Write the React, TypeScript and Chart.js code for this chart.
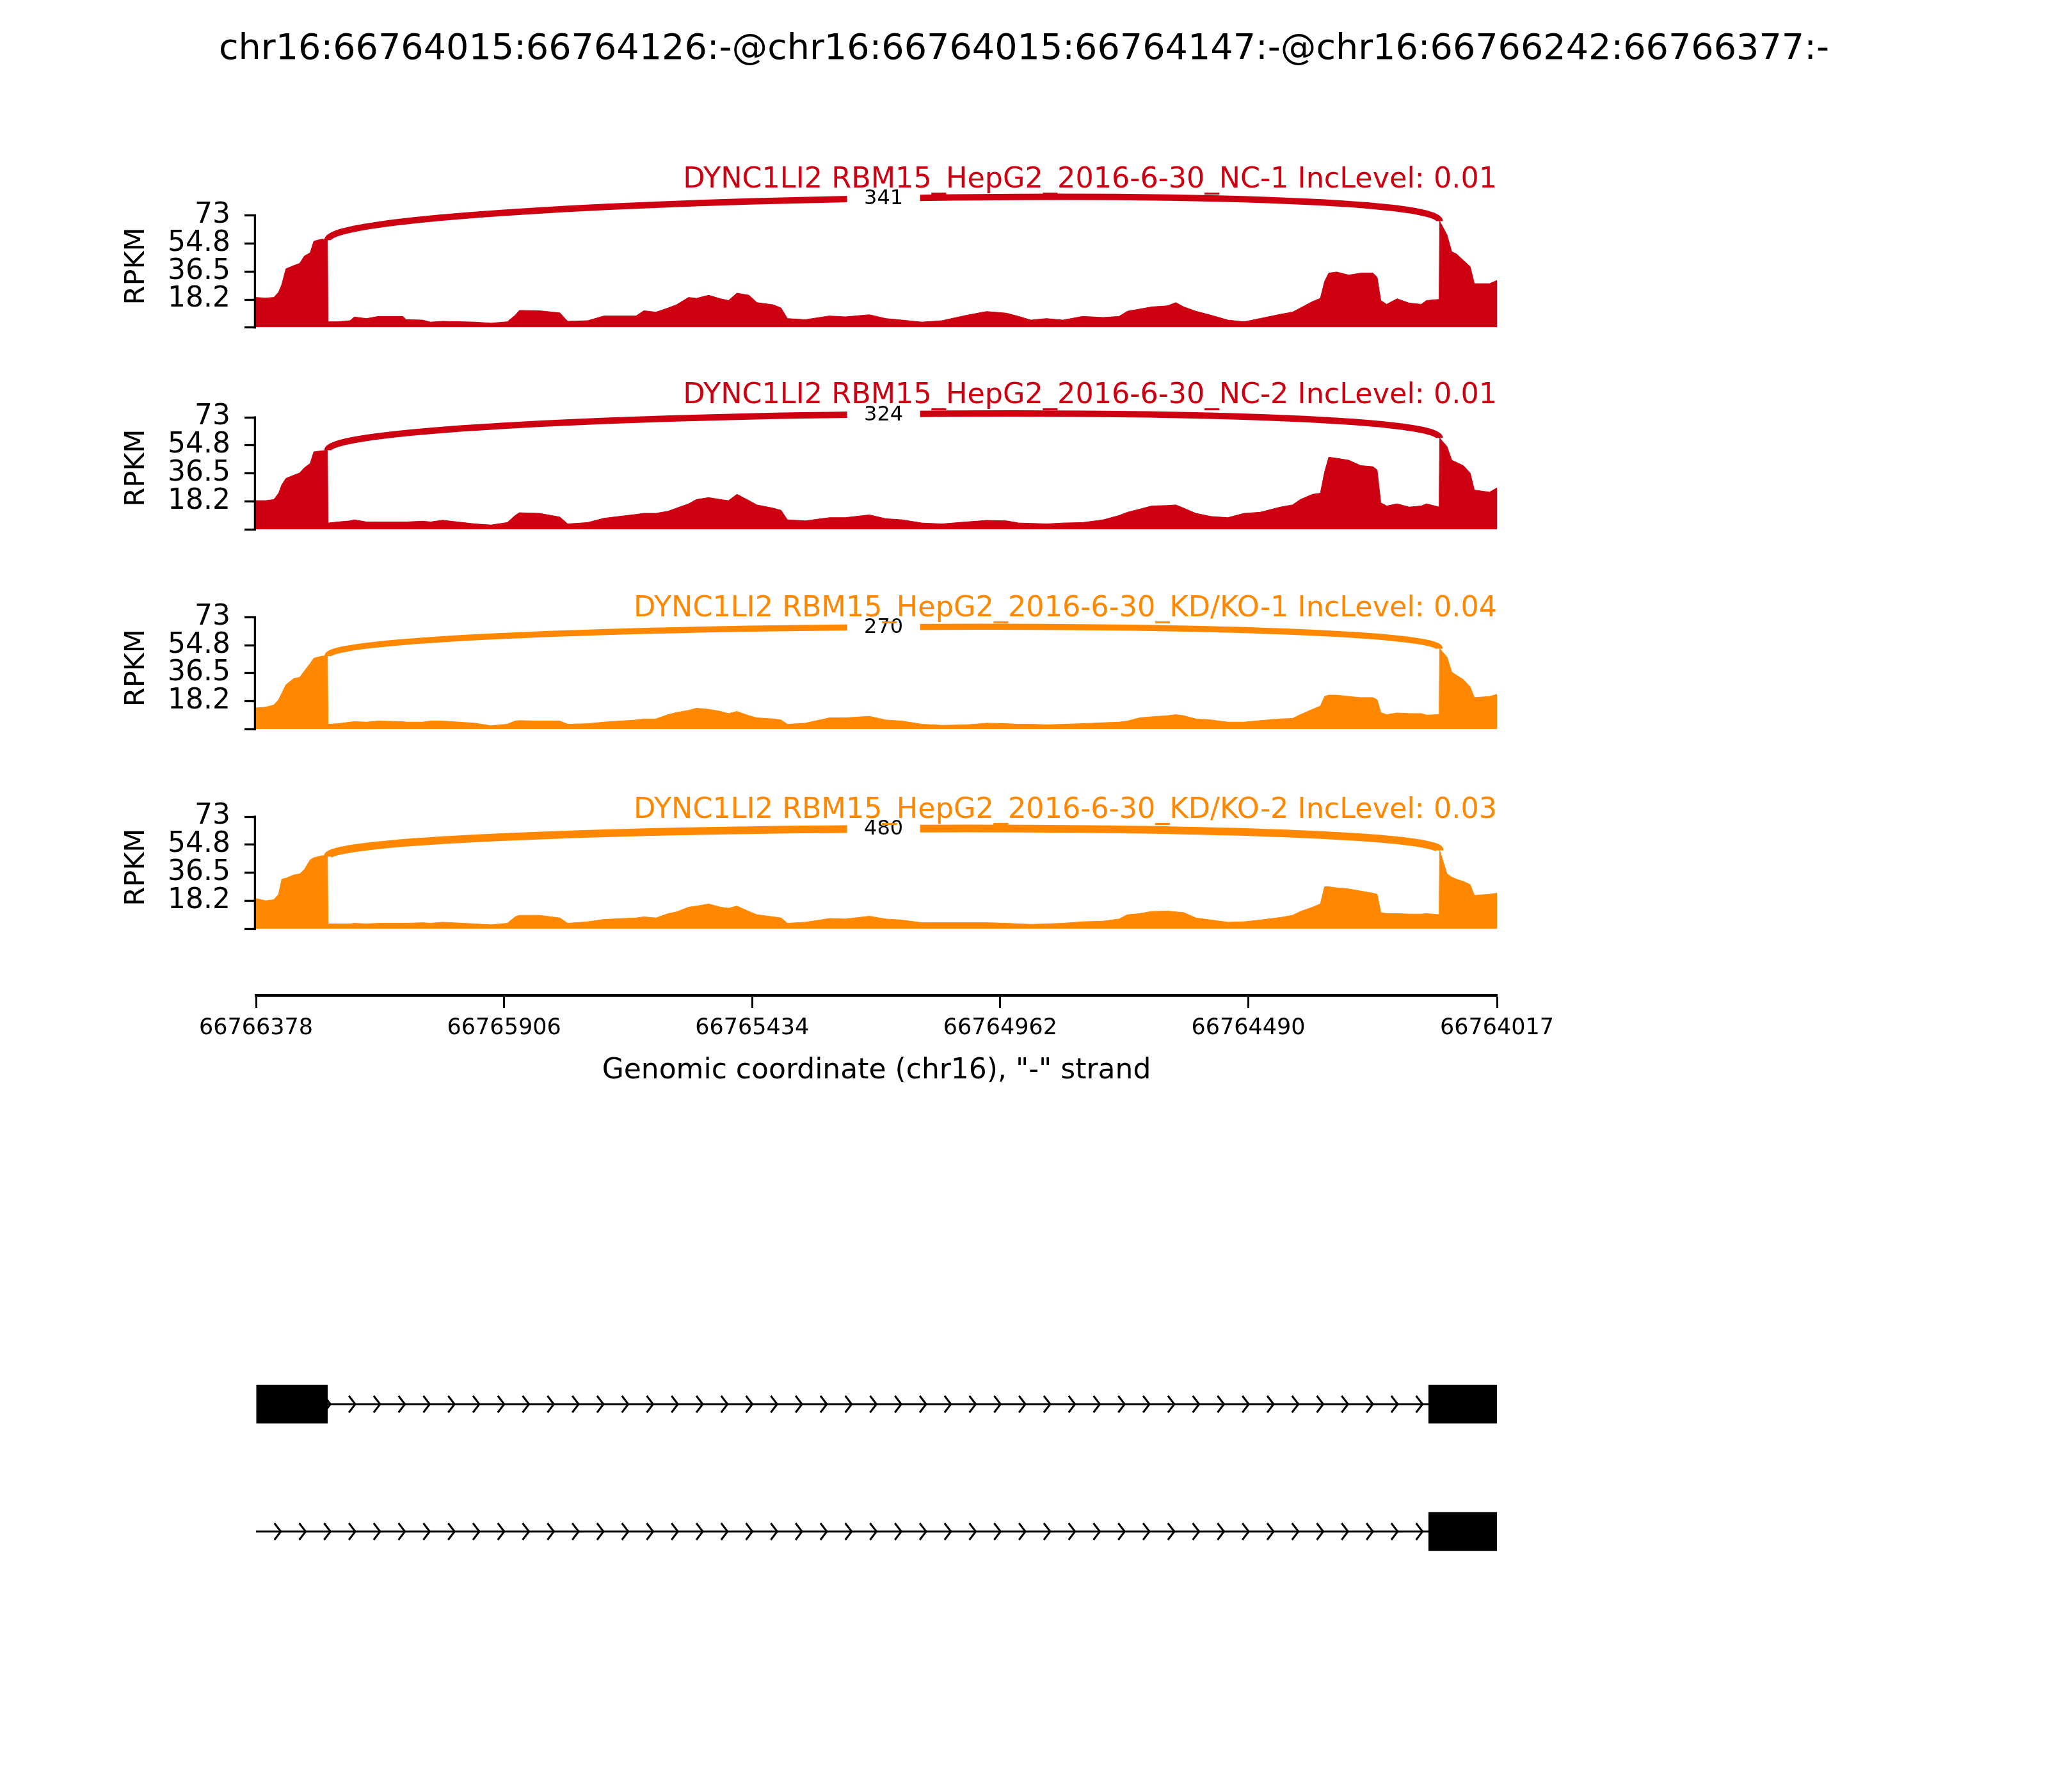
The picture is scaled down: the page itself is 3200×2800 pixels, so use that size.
import React, { useEffect, useRef } from 'react';
import { Chart, registerables } from 'chart.js';

Chart.register(...registerables);
Chart.defaults.font.family = '"DejaVu Sans", sans-serif';
Chart.defaults.color = '#000';

// ---------------- data ----------------
const figureTitle = 'chr16:66764015:66764126:-@chr16:66764015:66764147:-@chr16:66766242:66766377:-';
const regionLeft = 66766378;
const regionRight = 66764017;
const xTickValues = [66766378, 66765906, 66765434, 66764962, 66764490, 66764017];
const xAxisLabel = 'Genomic coordinate (chr16), "-" strand';
const yTickValues = [0, 18.2, 36.5, 54.8, 73];
const yAxisLabel = 'RPKM';

const sampleLabels = [
  'DYNC1LI2 RBM15_HepG2_2016-6-30_NC-1 IncLevel: 0.01',
  'DYNC1LI2 RBM15_HepG2_2016-6-30_NC-2 IncLevel: 0.01',
  'DYNC1LI2 RBM15_HepG2_2016-6-30_KD/KO-1 IncLevel: 0.04',
  'DYNC1LI2 RBM15_HepG2_2016-6-30_KD/KO-2 IncLevel: 0.03',
];
const junctionCounts = [341, 324, 270, 480];
const junctionStart = 66766242;
const junctionEnd = 66764126;

// positions as bp offsets from the left edge (66766378)
const coverageOffsets = [
  0, 18, 34, 43, 49, 57, 72, 83, 92, 103,
  110, 126, 136, 137, 156, 179, 187, 210, 233, 279,
  286, 317, 332, 355, 417, 447, 478, 493, 501, 539,
  578, 593, 631, 662, 723, 738, 761, 784, 800, 823,
  838, 861, 884, 899, 915, 938, 953, 984, 999, 1011,
  1045, 1091, 1121, 1167, 1198, 1229, 1267, 1305, 1351, 1390,
  1428, 1451, 1474, 1504, 1535, 1573, 1612, 1642, 1658, 1681,
  1704, 1734, 1750, 1765, 1788, 1818, 1849, 1880, 1910, 1949,
  1972, 1987, 2010, 2025, 2033, 2041, 2056, 2079, 2102, 2125,
  2133, 2140, 2151, 2171, 2194, 2217, 2227, 2251, 2252, 2266,
  2275, 2284, 2297, 2310, 2318, 2347, 2361,
];

const coverageNC1 = [
  19.6, 19.2, 19.6, 23, 28, 38.3, 40.4, 41.8, 46.6, 48.7,
  56.3, 57.7, 57, 3.7, 3.7, 4.4, 6.8, 5.8, 7.2, 7.2,
  5.1, 4.8, 3.5, 4, 3.5, 2.8, 3.7, 7.9, 11.1, 10.9,
  9.5, 4, 4.4, 7.5, 7.5, 10.9, 10, 12.7, 14.8, 19.6,
  19, 21, 18.7, 17.6, 22.4, 21, 16.2, 14.8, 12.7, 5.8,
  5.1, 7.5, 6.9, 8.3, 5.8, 4.8, 3.5, 4.4, 7.9, 10.4,
  9.3, 7.2, 4.8, 5.8, 4.8, 7.2, 6.5, 7.2, 10.6, 12,
  13.4, 14.1, 16.2, 13.4, 10.6, 7.9, 4.8, 3.7, 5.8, 8.6,
  10, 12.7, 16.9, 19, 30, 35.5, 36.2, 34.2, 35.5, 35.5,
  32.8, 17.6, 15.1, 18.7, 15.9, 15.1, 17.6, 18.3, 69.4, 60.4,
  49.4, 48, 43.8, 39.7, 28.6, 28.6, 30.7,
];

const coverageNC2 = [
  18.7, 18.7, 19.4, 23.5, 29, 33.2, 35.3, 36.7, 40.1, 42.9,
  50.5, 51.2, 51.5, 4.1, 4.8, 5.5, 6.2, 4.8, 4.8, 4.8,
  4.8, 5.3, 4.8, 5.9, 3.5, 2.8, 4.4, 9, 10.8, 10.4,
  8, 3.5, 4.4, 7.2, 9.7, 10.4, 10.4, 11.8, 13.8, 16.6,
  19.4, 20.7, 19.4, 18.7, 22.8, 18.7, 15.9, 13.8, 12.4, 6.2,
  5.5, 7.6, 7.6, 9.4, 6.9, 6.2, 4.1, 3.5, 4.8, 5.8,
  5.5, 4.1, 3.9, 3.5, 4.1, 4.4, 6.2, 9, 11.1, 13.1,
  15.2, 15.5, 15.9, 13.8, 10.4, 8.3, 7.6, 10.4, 11.1, 14.5,
  15.9, 19.4, 22.8, 23.5, 37.3, 47, 46.3, 45, 41.5, 40.8,
  38.7, 17.3, 15.2, 16.6, 14.5, 15.2, 16.6, 14.5, 59.5, 53.9,
  45, 43.6, 41.5, 36.7, 25.6, 24.2, 27,
];

const coverageKD1 = [
  13.8, 14.3, 15.7, 19.2, 23.4, 29, 33.1, 33.8, 38, 42.9,
  46.4, 47.8, 47.8, 3.1, 3.5, 4.5, 4.8, 4.5, 5.2, 4.8,
  4.5, 4.5, 5.2, 5.2, 3.8, 2.1, 3.1, 5.2, 5.5, 5.2,
  5.2, 3.1, 3.5, 4.5, 5.9, 6.6, 6.6, 9.4, 10.8, 12.2,
  13.6, 12.9, 11.5, 10.1, 11.5, 8.7, 7.3, 6.6, 5.9, 3.1,
  3.8, 7.3, 7.3, 8.3, 5.9, 5.2, 3.1, 2.4, 2.7, 3.8,
  3.5, 3.1, 3.1, 2.7, 3.1, 3.5, 4.1, 4.5, 5.2, 7.3,
  8, 8.7, 9.4, 8.7, 6.6, 5.9, 4.5, 4.5, 5.5, 6.6,
  6.9, 9.4, 12.9, 15, 21.3, 22.2, 22.2, 21.3, 20.6, 20.6,
  19.2, 10.8, 9.4, 10.5, 10.1, 10.1, 9.1, 9.4, 52.7, 47.1,
  37.3, 35.2, 32.4, 27.6, 20.6, 21.3, 22.7,
];

const coverageKD2 = [
  19.6, 18.2, 18.9, 22.4, 32.2, 32.9, 35, 35.7, 38.5, 44.8,
  46.2, 47.6, 46.9, 3.1, 3.1, 3.1, 3.5, 3.1, 3.5, 3.5,
  3.5, 3.9, 3.5, 4.2, 3.1, 2.5, 3.5, 7.7, 8.7, 8.7,
  7, 3.5, 4.5, 6, 7, 7.7, 7, 9.8, 10.9, 14,
  14.7, 16.1, 14, 13.3, 14.7, 11.2, 9.1, 7.7, 7, 3.5,
  4.2, 6.6, 6.3, 8.1, 6.3, 5.6, 3.9, 3.9, 3.9, 3.9,
  3.5, 3.1, 2.8, 3.1, 3.5, 4.5, 4.9, 6.3, 9.1, 9.8,
  11.2, 11.5, 10.9, 10.5, 7, 5.6, 4.2, 4.5, 5.6, 7.3,
  8.7, 11.2, 14, 16.1, 27.3, 27.3, 26.6, 25.9, 24.5, 23.1,
  22.4, 10.5, 9.8, 9.8, 9.5, 9.5, 9.8, 9.1, 51, 35.7,
  33.6, 32.2, 30.8, 28.7, 21.7, 22.4, 23.1,
];

const coverageSeries = [coverageNC1, coverageNC2, coverageKD1, coverageKD2];

// gene structure (exon [start, end] per isoform, intron line span)
const isoformExons = [
  [[66766242, 66766377], [66764015, 66764147]],
  [[66764015, 66764147]],
];
const intronSpans = [
  [66766242, 66764147],
  [66766378, 66764147],
];

// ---------------- style / layout ----------------
const W = 3200;
const H = 2800;
const AREA_LEFT = 400;
const AREA_RIGHT = 2339;
const Y_AXIS_W = 250;
const sampleColors = ['#CC0011', '#CC0011', '#FF8800', '#FF8800'];
const arcHeights = [28, 26, 22, 21.5];
const arcWidths = [10, 10, 9.5, 12];
const panelBottoms = [513, 827, 1139, 1451];
const panelTops = [337, 652, 965, 1276];
const bands = [[0, 560], [560, 880], [880, 1190], [1190, 1500]];
const Y_MAX = 80;
const FONT = '"DejaVu Sans"';

function coverageConfig(i: number): any {
  const values = coverageSeries[i];
  const [bTop, bBot] = bands[i];
  const ppu = (panelBottoms[i] - panelTops[i]) / yTickValues[yTickValues.length - 1];
  const areaTop = panelBottoms[i] - Y_MAX * ppu;
  const color = sampleColors[i];
  const leftIdx = coverageOffsets.indexOf(regionLeft - junctionStart);
  const rightIdx = coverageOffsets.indexOf(regionLeft - junctionEnd);

  const decor = {
    id: 'sashimiDecor' + i,
    afterDatasetsDraw(chart: any) {
      const { ctx, chartArea } = chart;
      const x = chart.scales.x;
      const y = chart.scales.y;
      ctx.save();
      // left spine bounded 0..73
      ctx.strokeStyle = '#000';
      ctx.lineWidth = 3.3;
      ctx.beginPath();
      ctx.moveTo(chartArea.left - 1.6, y.getPixelForValue(0) + 1.6);
      ctx.lineTo(chartArea.left - 1.6, y.getPixelForValue(yTickValues[yTickValues.length - 1]) - 1.6);
      ctx.stroke();

      // junction arc
      const h = arcHeights[i];
      const yl = values[leftIdx];
      const yr = values[rightIdx];
      const xl = x.getPixelForValue(junctionStart);
      const xr = x.getPixelForValue(junctionEnd);
      ctx.strokeStyle = color;
      ctx.lineWidth = arcWidths[i];
      ctx.beginPath();
      ctx.moveTo(xl, y.getPixelForValue(yl));
      ctx.bezierCurveTo(xl, y.getPixelForValue(yl + h), xr, y.getPixelForValue(yr + h), xr, y.getPixelForValue(yr));
      ctx.stroke();

      const mx = (xl + xr) / 2;
      const my = y.getPixelForValue((yl + yr) / 2 + 0.75 * h);
      ctx.fillStyle = '#fff';
      ctx.fillRect(mx - 57, my - 24, 114, 48);
      ctx.fillStyle = '#000';
      ctx.font = `32px ${FONT}`;
      ctx.textAlign = 'center';
      ctx.textBaseline = 'middle';
      ctx.fillText(String(junctionCounts[i]), mx, my + 1);

      // sample title
      ctx.fillStyle = color;
      ctx.font = `44.5px ${FONT}`;
      ctx.textAlign = 'right';
      ctx.textBaseline = 'alphabetic';
      ctx.fillText(sampleLabels[i], chartArea.right, my - 17);

      if (i === 0) {
        ctx.fillStyle = '#000';
        ctx.font = `55.6px ${FONT}`;
        ctx.textAlign = 'center';
        ctx.textBaseline = 'middle';
        ctx.fillText(figureTitle, W / 2, 78 - bTop);
      }
      ctx.restore();
    },
  };

  return {
    type: 'line',
    data: {
      datasets: [
        {
          data: coverageOffsets.map((o, k) => ({ x: regionLeft - o, y: values[k] })),
          fill: 'origin',
          backgroundColor: color,
          borderColor: color,
          borderWidth: 1,
          pointRadius: 0,
          tension: 0,
        },
      ],
    },
    options: {
      animation: false,
      responsive: false,
      devicePixelRatio: 1,
      events: [],
      layout: {
        padding: {
          left: AREA_LEFT - Y_AXIS_W,
          right: W - AREA_RIGHT,
          top: areaTop - bTop,
          bottom: bBot - panelBottoms[i],
        },
      },
      plugins: { legend: { display: false }, tooltip: { enabled: false }, title: { display: false } },
      scales: {
        x: { type: 'linear', min: regionRight, max: regionLeft, reverse: true, display: false },
        y: {
          type: 'linear',
          min: 0,
          max: Y_MAX,
          afterFit: (s: any) => { s.width = Y_AXIS_W; },
          afterBuildTicks: (s: any) => { s.ticks = yTickValues.map((v) => ({ value: v })); },
          ticks: {
            autoSkip: false,
            callback: (v: any) => (v === 0 ? '' : String(v)),
            font: { family: FONT, size: 44 },
            color: '#000',
            padding: 22,
          },
          grid: { drawOnChartArea: false, drawTicks: true, tickLength: 18, tickWidth: 3.3, tickColor: '#000' },
          border: { display: false },
          title: {
            display: true,
            text: yAxisLabel,
            font: { family: FONT, size: 43 },
            color: '#000',
            padding: { top: 38, bottom: 0 },
          },
        },
      },
    },
    plugins: [decor],
  };
}

function axisConfig(): any {
  return {
    type: 'line',
    data: { datasets: [] },
    options: {
      animation: false,
      responsive: false,
      devicePixelRatio: 1,
      events: [],
      layout: { padding: { left: AREA_LEFT, right: W - AREA_RIGHT, top: 20, bottom: 5 } },
      plugins: { legend: { display: false }, tooltip: { enabled: false } },
      scales: {
        x: {
          type: 'linear',
          position: 'bottom',
          min: regionRight,
          max: regionLeft,
          reverse: true,
          afterBuildTicks: (s: any) => { s.ticks = xTickValues.map((v) => ({ value: v })); },
          afterFit: (s: any) => { s.height = 200; },
          ticks: {
            autoSkip: false,
            maxRotation: 0,
            minRotation: 0,
            callback: (v: any) => String(v),
            font: { family: FONT, size: 35 },
            color: '#000',
            padding: 11,
          },
          grid: { drawOnChartArea: false, drawTicks: true, tickLength: 20, tickWidth: 3, tickColor: '#000' },
          border: { display: true, color: '#000', width: 4.7 },
          title: {
            display: true,
            text: xAxisLabel,
            font: { family: FONT, size: 44 },
            color: '#000',
            padding: { top: 0, bottom: 55 },
          },
        },
        y: { display: false },
      },
    },
  };
}

function geneConfig(): any {
  const maxExons = Math.max(...isoformExons.map((e) => e.length));
  const datasets = [];
  for (let k = 0; k < maxExons; k++) {
    datasets.push({
      data: isoformExons.map((ex) => (ex[k] ? ex[k] : null)),
      backgroundColor: '#000',
      borderWidth: 0,
      barThickness: 60,
      grouped: false,
      clip: 0,
    });
  }
  const introns = {
    id: 'introns',
    beforeDatasetsDraw(chart: any) {
      const { ctx, chartArea } = chart;
      const x = chart.scales.x;
      const y = chart.scales.y;
      ctx.save();
      ctx.strokeStyle = '#000';
      ctx.lineWidth = 3;
      const span = regionLeft - regionRight;
      intronSpans.forEach(([s, e], row) => {
        const py = y.getPixelForValue(row);
        const x0 = Math.max(chartArea.left, x.getPixelForValue(s));
        const x1 = Math.min(chartArea.right, x.getPixelForValue(e));
        ctx.beginPath();
        ctx.moveTo(x0, py);
        ctx.lineTo(x1, py);
        ctx.stroke();
        for (let k = 1; k < 50; k++) {
          const c = regionLeft - (k * span) / 50;
          if (c < s && c > e) {
            const vx = x.getPixelForValue(c);
            ctx.beginPath();
            ctx.moveTo(vx - 10, py - 13);
            ctx.lineTo(vx, py);
            ctx.lineTo(vx - 10, py + 13);
            ctx.stroke();
          }
        }
      });
      ctx.restore();
    },
  };
  return {
    type: 'bar',
    data: { labels: ['isoform 1', 'isoform 2'], datasets },
    options: {
      indexAxis: 'y',
      animation: false,
      responsive: false,
      devicePixelRatio: 1,
      events: [],
      layout: { padding: { left: AREA_LEFT, right: W - AREA_RIGHT, top: 34.5, bottom: 47.5 } },
      plugins: { legend: { display: false }, tooltip: { enabled: false } },
      scales: {
        x: { type: 'linear', min: regionRight, max: regionLeft, reverse: true, display: false },
        y: { display: false },
      },
    },
    plugins: [introns],
  };
}

function ChartCanvas({ top, height, make }: { top: number; height: number; make: () => any }) {
  const ref = useRef<HTMLCanvasElement | null>(null);
  useEffect(() => {
    if (!ref.current) return;
    const chart = new Chart(ref.current, make());
    return () => chart.destroy();
  }, []);
  return (
    <canvas
      ref={ref}
      width={W}
      height={height}
      style={{ position: 'absolute', left: 0, top, width: W, height }}
    />
  );
}

export default function App() {
  useEffect(() => {
    document.body.style.margin = '0';
  }, []);
  return (
    <div style={{ position: 'absolute', left: 0, top: 0, width: W, height: H, background: '#fff', overflow: 'hidden' }}>
      {coverageSeries.map((_, i) => (
        <ChartCanvas key={i} top={bands[i][0]} height={bands[i][1] - bands[i][0]} make={() => coverageConfig(i)} />
      ))}
      <ChartCanvas top={1500} height={260} make={axisConfig} />
      <ChartCanvas top={2060} height={480} make={geneConfig} />
    </div>
  );
}
